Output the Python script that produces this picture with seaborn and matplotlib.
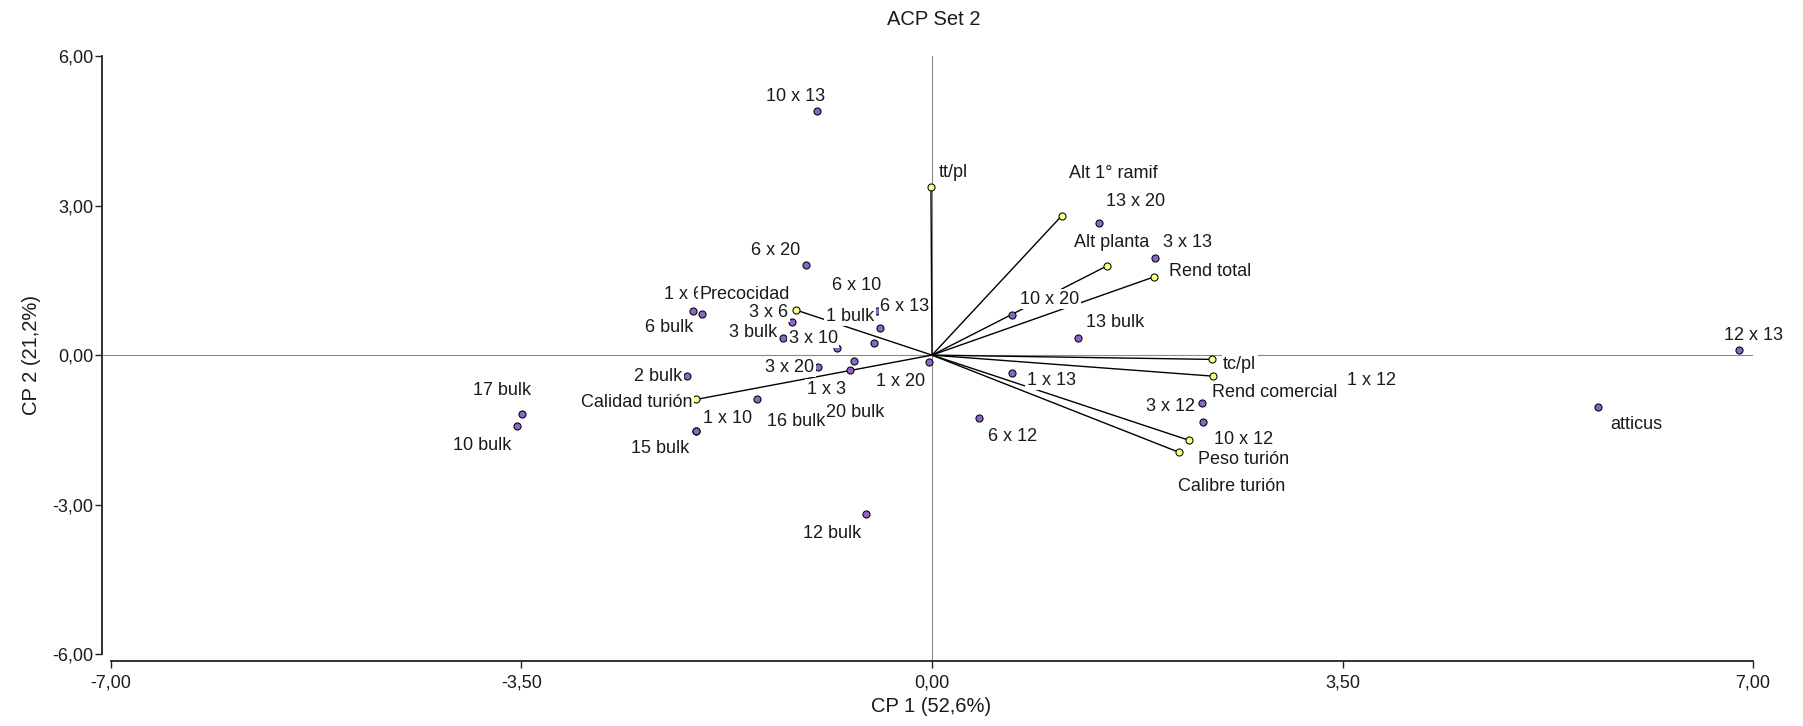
import matplotlib
matplotlib.use("Agg")
import matplotlib.pyplot as plt
import numpy as np
import pandas as pd
import seaborn as sns

# Observation scores on the first two principal components
obs_names = [
    "10 x 13", "6 x 20", "1 x 6", "6 bulk", "6 x 13", "6 x 10", "1 bulk",
    "3 x 6", "3 bulk", "3 x 10", "3 x 20", "20 bulk", "1 x 3", "1 x 20",
    "16 bulk", "1 x 10", "15 bulk", "2 bulk", "17 bulk", "10 bulk",
    "12 bulk", "6 x 12", "1 x 13", "10 x 20", "13 bulk", "13 x 20",
    "3 x 13", "3 x 12", "10 x 12", "1 x 12", "atticus", "12 x 13",
]
obs_cp1 = [
    -0.983, -1.077, -2.041, -1.964, -0.471, -0.443, -0.494,
    -1.196, -1.273, -0.808, -0.976, -0.665, -0.699, -0.023,
    -1.492, -2.012, -2.010, -2.086, -3.493, -3.541,
    -0.565, 0.403, 0.685, 0.680, 1.242, 1.424,
    1.899, 2.299, 2.313, 3.410, 5.675, 6.882,
]
obs_cp2 = [
    4.906, 1.801, 0.890, 0.823, 0.890, 0.536, 0.235,
    0.657, 0.335, 0.135, -0.241, -0.114, -0.307, -0.141,
    -0.890, -1.520, -1.526, -0.422, -1.191, -1.432,
    -3.199, -1.259, -0.367, 0.803, 0.335, 2.657,
    1.942, -0.970, -1.339, -0.743, -1.038, 0.100,
]

# Variable loadings (scaled) drawn as vectors from the origin
var_names = [
    "tt/pl", "Alt 1° ramif", "Alt planta", "Rend total", "tc/pl",
    "Rend comercial", "Peso turión", "Calibre turión", "Precocidad",
    "Calidad turión",
]
var_cp1 = [-0.009, 1.106, 1.494, 1.895, 2.385, 2.393, 2.188, 2.103, -1.159, -2.012]
var_cp2 = [3.373, 2.797, 1.793, 1.572, -0.086, -0.422, -1.707, -1.948, 0.904, -0.890]

x_ticks = [-7.0, -3.5, 0.0, 3.5, 7.0]
y_ticks = [-6.0, -3.0, 0.0, 3.0, 6.0]

# Label placement (offset of the label centre from its point, in pixels)
obs_label_offsets = {
    "10 x 13": (-21, 14), "6 x 20": (-30, 15), "1 x 6": (-9, 16),
    "6 bulk": (-32, -13), "6 x 13": (28, 4), "6 x 10": (-23, 43),
    "1 bulk": (-24, 27), "3 x 6": (-23, 10), "3 bulk": (-30, 6),
    "3 x 10": (-24, 10), "3 x 20": (-28, 0), "20 bulk": (1, -52),
    "1 x 3": (-24, -19), "1 x 20": (-29, -19), "16 bulk": (39, -22),
    "1 x 10": (32, 12), "15 bulk": (-36, -17), "2 bulk": (-29, 0),
    "17 bulk": (-20, 24), "10 bulk": (-34, -19), "12 bulk": (-34, -19),
    "6 x 12": (33, -19), "1 x 13": (39, -7), "10 x 20": (38, 16),
    "13 bulk": (37, 16), "13 x 20": (37, 21), "3 x 13": (33, 16),
    "3 x 12": (-31, -3), "10 x 12": (40, -18), "1 x 12": (40, 12),
    "atticus": (39, -18), "12 x 13": (14, 15),
}
var_label_offsets = {
    "tt/pl": (22, 15), "Alt 1° ramif": (52, 42), "Alt planta": (4, 23),
    "Rend total": (56, 5), "tc/pl": (28, -5), "Rend comercial": (62, -16),
    "Peso turión": (55, -19), "Calibre turión": (53, -34),
    "Precocidad": (-51, 16), "Calidad turión": (-59, -3),
}

obs = pd.DataFrame({"name": obs_names, "CP1": obs_cp1, "CP2": obs_cp2})
var = pd.DataFrame({"name": var_names, "CP1": var_cp1, "CP2": var_cp2})

sns.set_style("white")
plt.rcParams["font.family"] = ["Liberation Sans", "DejaVu Sans"]

fig = plt.figure(figsize=(18.03, 7.26), dpi=100)
ax = fig.add_axes([0.05630, 0.08953, 0.91603, 0.83306])

ax.set_xlim(-7.08, 7.0)
ax.set_ylim(-6.14, 6.0)

# reference axes through the origin
ax.axhline(0, color="#8a8a8a", lw=0.8, zorder=1)
ax.axvline(0, color="#8a8a8a", lw=0.8, zorder=1)

# loading vectors
for _, r in var.iterrows():
    ax.plot([0, r.CP1], [0, r.CP2], color="black", lw=1.0, zorder=2,
            solid_capstyle="butt")

sns.scatterplot(data=obs, x="CP1", y="CP2", ax=ax, color="#8B66C8",
                edgecolor="black", linewidth=0.75, s=26, zorder=3, legend=False,
                clip_on=False)
sns.scatterplot(data=var, x="CP1", y="CP2", ax=ax, color="#FFFF85",
                edgecolor="black", linewidth=0.75, s=26, zorder=3, legend=False)

box = dict(boxstyle="square,pad=0.08", fc="white", ec="none")
for _, r in obs.iterrows():
    dx, dy = obs_label_offsets[r["name"]]
    ax.annotate(r["name"], (r.CP1, r.CP2), xytext=(dx, dy),
                textcoords="offset pixels", ha="center", va="center",
                fontsize=13, color="#1a1a1a", bbox=box, zorder=4,
                annotation_clip=False)
for _, r in var.iterrows():
    dx, dy = var_label_offsets[r["name"]]
    ax.annotate(r["name"], (r.CP1, r.CP2), xytext=(dx, dy),
                textcoords="offset pixels", ha="center", va="center",
                fontsize=13, color="#1a1a1a", bbox=box, zorder=5,
                annotation_clip=False)

# spines and ticks
sns.despine(ax=ax)
ax.spines["left"].set_bounds(-6, 6)
ax.spines["bottom"].set_bounds(-7, 7)
for s in ("left", "bottom"):
    ax.spines[s].set_color("#222222")
    ax.spines[s].set_linewidth(1.3)

ax.set_xticks(x_ticks)
ax.set_xticklabels([f"{v:.2f}".replace(".", ",") for v in x_ticks])
ax.set_yticks(y_ticks)
ax.set_yticklabels([f"{v:.2f}".replace(".", ",") for v in y_ticks])
ax.tick_params(axis="both", direction="out", length=5, width=1.0,
               color="#222222", labelsize=13, labelcolor="#1a1a1a")
ax.tick_params(axis="x", pad=5, bottom=True)
ax.tick_params(axis="y", pad=1, left=True)

ax.set_xlabel("CP 1 (52,6%)", fontsize=14.5, color="#1a1a1a")
ax.set_ylabel("CP 2 (21,2%)", fontsize=14.5, color="#1a1a1a")
ax.xaxis.set_label_coords(0.5025, -0.076)
ax.xaxis.label.set_va("center")
ax.yaxis.set_label_coords(-0.0421, 0.5058)
ax.yaxis.label.set_va("center")

fig.text(933.8 / 1803, 1 - 19.5 / 726, "ACP Set 2", ha="center", va="center",
         fontsize=14.5, color="#1a1a1a")

fig.savefig("out.png", dpi=100)
